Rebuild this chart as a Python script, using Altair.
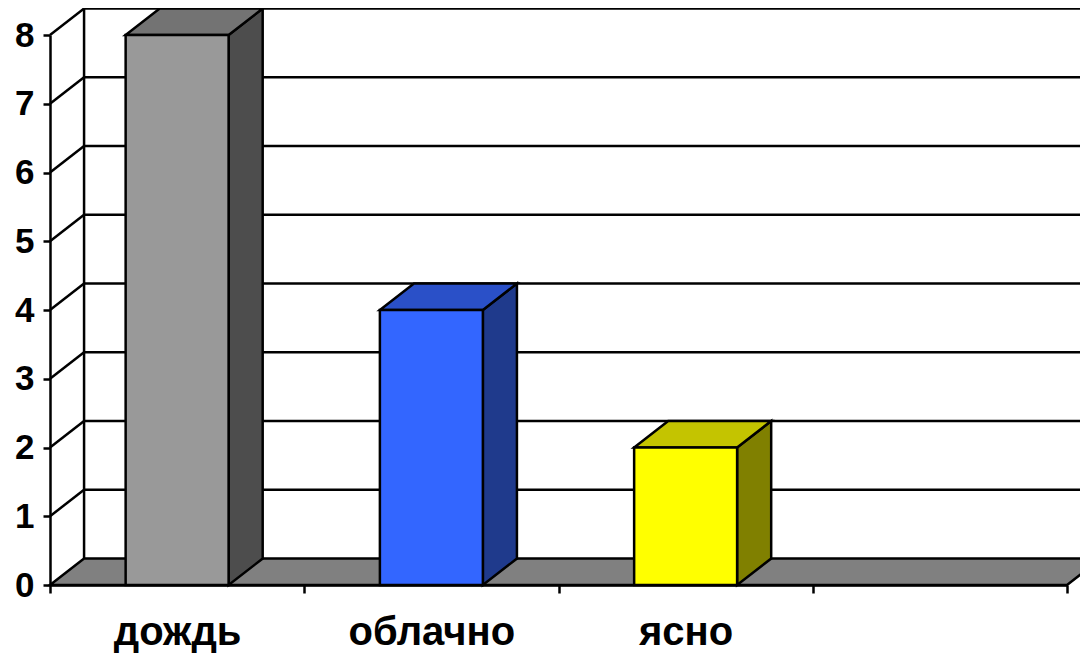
import altair as alt
import pandas as pd

# ---- data ----
categories = ["дождь", "облачно", "ясно"]
values = [8, 4, 2]
n_slots = 4            # the category axis reserves a fourth, empty slot
y_ticks = [0, 1, 2, 3, 4, 5, 6, 7, 8]

# ---- style ----
front_colors = ["#999999", "#3366ff", "#ffff00"]
top_colors = ["#737373", "#2a50c8", "#c4c400"]
side_colors = ["#4d4d4d", "#1f3a8c", "#808000"]
floor_color = "#808080"
FONT = "Liberation Sans"
SW = 2.5
DX = 0.134   # depth offset in category units
DY = 0.385   # depth offset in value units
HALF = 0.2025  # half bar width in category units

xs = alt.Scale(domain=[0, n_slots], nice=False, zero=False)
ys = alt.Scale(domain=[0, max(y_ticks)], nice=False, zero=True)

x_vals = sorted([float(i) for i in range(n_slots + 1)] + [i + 0.5 for i in range(n_slots)])
expr = "''"
for i, c in reversed(list(enumerate(categories))):
    expr = f"datum.value == {i + 0.5} ? '{c}' : ({expr})"

x_axis = alt.Axis(
    values=x_vals, labelExpr=expr, title=None, grid=False,
    domainColor="black", domainWidth=SW,
    tickColor="black", tickWidth=SW, tickSize=8,
    tickOpacity={"condition": {"test": "datum.value % 1 != 0", "value": 0}, "value": 1},
    labelFont=FONT, labelFontSize=40, labelFontWeight="bold", labelColor="black",
    labelPadding=19, labelOverlap=False, labelFlush=False,
)
y_axis = alt.Axis(
    values=y_ticks, format="d", title=None, grid=False,
    domainColor="black", domainWidth=SW,
    tickColor="black", tickWidth=SW, tickSize=7,
    labelFont=FONT, labelFontSize=35, labelFontWeight="bold", labelColor="black",
    labelPadding=9, labelOverlap=False, labelFlush=False,
)


def X(f):
    return alt.X(f, type="quantitative", scale=xs, axis=x_axis)


def Y(f):
    return alt.Y(f, type="quantitative", scale=ys, axis=y_axis, stack=None)


# ---- wall & grid lines ----
rules = []
top_v = max(y_ticks)
for v in y_ticks[1:]:
    rules.append(dict(x=0, x2=DX, y=v, y2=v + DY))                 # left wall
    rules.append(dict(x=DX, x2=n_slots + DX, y=v + DY, y2=v + DY))  # back wall
rules.append(dict(x=DX, x2=DX, y=DY, y2=top_v + DY))                # back wall corner
rules_df = pd.DataFrame(rules)

grid = alt.Chart(rules_df).mark_rule(color="black", strokeWidth=SW).encode(
    x=X("x"), x2="x2", y=Y("y"), y2="y2"
)

# ---- floor ----
floor_df = pd.DataFrame({
    "x": [0, DX, n_slots, n_slots + DX],
    "hi": [0, DY, DY, DY],
    "lo": [0, 0, 0, DY],
})
floor = alt.Chart(floor_df).mark_area(
    color=floor_color, stroke="black", strokeWidth=SW, orient="vertical", opacity=1
).encode(x=X("x"), y=Y("hi"), y2="lo")

# ---- bars ----
front_rows, face_rows = [], []
for i, v in enumerate(values):
    x0 = i + 0.5 - HALF
    x1 = i + 0.5 + HALF
    front_rows.append(dict(x=x0, x2=x1, y=0, y2=v, fill=front_colors[i]))
    sid = f"side{i}"
    face_rows += [
        dict(face=sid, x=x1, hi=v, lo=0, fill=side_colors[i]),
        dict(face=sid, x=x1 + DX, hi=v + DY, lo=DY, fill=side_colors[i]),
    ]
    tid = f"top{i}"
    face_rows += [
        dict(face=tid, x=x0, hi=v, lo=v, fill=top_colors[i]),
        dict(face=tid, x=x0 + DX, hi=v + DY, lo=v, fill=top_colors[i]),
        dict(face=tid, x=x1, hi=v + DY, lo=v, fill=top_colors[i]),
        dict(face=tid, x=x1 + DX, hi=v + DY, lo=v + DY, fill=top_colors[i]),
    ]
front_df = pd.DataFrame(front_rows)
face_df = pd.DataFrame(face_rows)

faces = alt.Chart(face_df).mark_area(
    stroke="black", strokeWidth=SW, orient="vertical", opacity=1
).encode(
    x=X("x"), y=Y("hi"), y2="lo",
    color=alt.Color("fill:N", scale=None),
    detail="face:N",
)

fronts = alt.Chart(front_df).mark_rect(stroke="black", strokeWidth=SW, opacity=1).encode(
    x=X("x"), x2="x2", y=Y("y"), y2="y2",
    color=alt.Color("fill:N", scale=None),
)

chart = alt.layer(grid, floor, faces, fronts).properties(
    width=1017, height=550,
    autosize=alt.AutoSizeParams(type="none"),
    padding={"left": 42, "top": 27, "right": 13, "bottom": 68},
    background="white",
).configure_view(strokeWidth=0)

chart.save("out.html", embed_options={"renderer": "svg", "actions": False})
